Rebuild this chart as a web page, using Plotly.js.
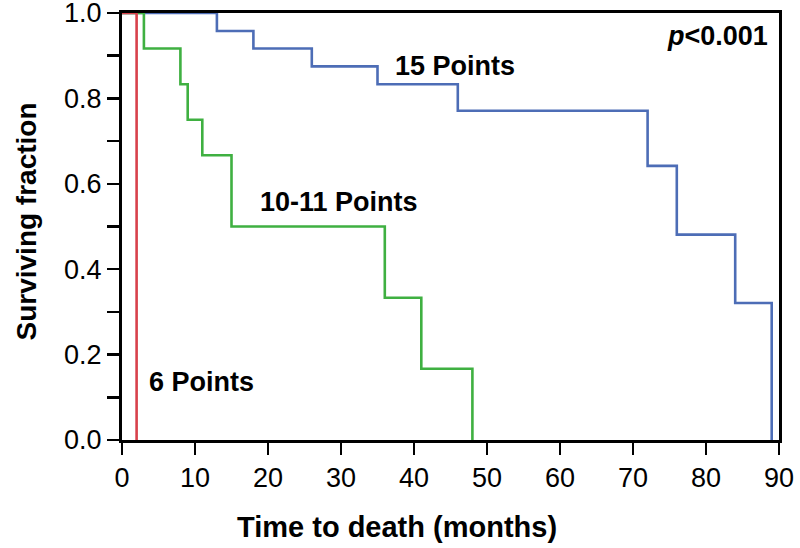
<!DOCTYPE html>
<html>
<head>
<meta charset="utf-8">
<script src="https://cdn.plot.ly/plotly-3.0.1.min.js"></script>
<style>html,body{margin:0;padding:0;background:#fff;}#chart{width:800px;height:548px;}</style>
</head>
<body>
<div id="chart"></div>
<script>
// Kaplan-Meier step data
const groupNames = ["15 Points", "10-11 Points", "6 Points"];
const timeHigh = [0, 13, 18, 26, 35, 46, 72, 76, 84, 89];
const survHigh = [1.0, 0.958, 0.917, 0.875, 0.833, 0.771, 0.642, 0.481, 0.321, 0.0];
const timeMid = [0, 3, 8, 9, 11, 15, 36, 41, 48];
const survMid = [1.0, 0.917, 0.833, 0.75, 0.667, 0.5, 0.333, 0.167, 0.0];
const timeLow = [0, 2];
const survLow = [1.0, 0.0];
const xTicks = [0, 10, 20, 30, 40, 50, 60, 70, 80, 90];
const yTicks = [0.0, 0.2, 0.4, 0.6, 0.8, 1.0];
const yTickText = ["0.0", "0.2", "0.4", "0.6", "0.8", "1.0"];
const xTitle = "Time to death (months)";
const yTitle = "Surviving fraction";

const font = "Liberation Sans, Arial, sans-serif";

const traces = [
  {x: timeHigh, y: survHigh, name: groupNames[0], mode: "lines", line: {shape: "hv", color: "#4d6db6", width: 2.6}},
  {x: timeMid, y: survMid, name: groupNames[1], mode: "lines", line: {shape: "hv", color: "#3fb041", width: 2.6}},
  {x: timeLow, y: survLow, name: groupNames[2], mode: "lines", line: {shape: "hv", color: "#d8414b", width: 2.6}}
];

const layout = {
  width: 800, height: 548,
  margin: {l: 122, r: 21, t: 13, b: 108},
  paper_bgcolor: "#fff", plot_bgcolor: "#fff",
  showlegend: false,
  font: {family: font, color: "#000", size: 24},
  xaxis: {
    range: [0, 90], tickvals: xTicks, ticktext: xTicks.map(String),
    showgrid: false, zeroline: false,
    showline: true, linecolor: "#000", linewidth: 3, mirror: true,
    ticks: "outside", ticklen: 12, tickwidth: 2.5, tickcolor: "#000",
    ticklabeloverflow: "allow",
    tickfont: {family: font, size: 27, color: "#000"}
  },
  yaxis: {
    range: [0, 1], tickvals: yTicks, ticktext: yTickText,
    showgrid: false, zeroline: false,
    showline: true, linecolor: "#000", linewidth: 3, mirror: true,
    ticks: "outside", ticklen: 12, tickwidth: 2.5, tickcolor: "#000",
    ticklabeloverflow: "allow",
    minor: {dtick: 0.1, tick0: 0, ticks: "outside", ticklen: 12, tickwidth: 2.5, tickcolor: "#000", showgrid: false},
    tickfont: {family: font, size: 27, color: "#000"}
  },
  annotations: [
    {x: 0.4186, y: -0.204, xref: "paper", yref: "paper", text: "<b>" + xTitle + "</b>", showarrow: false, xanchor: "center", yanchor: "middle", font: {family: font, size: 29, color: "#000"}},
    {x: -0.1446, y: 0.5117, xref: "paper", yref: "paper", text: "<b>" + yTitle + "</b>", textangle: -90, showarrow: false, xanchor: "center", yanchor: "middle", font: {family: font, size: 28, color: "#000"}},
    {x: 37.1, y: 0.876, xref: "x", yref: "y", text: "<b>" + groupNames[0] + "</b>", showarrow: false, xanchor: "left", yanchor: "middle", font: {family: font, size: 27, color: "#000"}},
    {x: 18.6, y: 0.558, xref: "x", yref: "y", text: "<b>" + groupNames[1] + "</b>", showarrow: false, xanchor: "left", yanchor: "middle", font: {family: font, size: 27, color: "#000"}},
    {x: 3.4, y: 0.136, xref: "x", yref: "y", text: "<b>" + groupNames[2] + "</b>", showarrow: false, xanchor: "left", yanchor: "middle", font: {family: font, size: 27, color: "#000"}},
    {x: 88.8, y: 0.945, xref: "x", yref: "y", text: "<b><i>p</i><0.001</b>", showarrow: false, xanchor: "right", yanchor: "middle", font: {family: font, size: 27, color: "#000"}}
  ]
};

Plotly.newPlot("chart", traces, layout, {staticPlot: true, displayModeBar: false});
</script>
</body>
</html>
